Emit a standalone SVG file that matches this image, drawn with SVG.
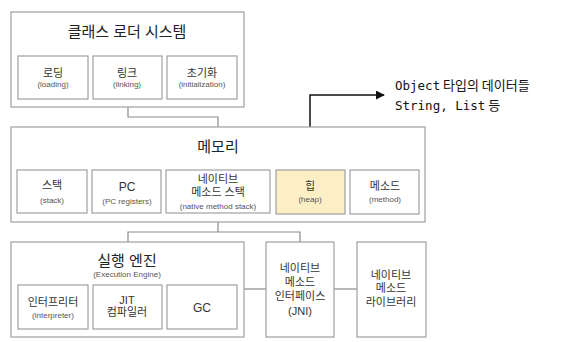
<svg xmlns="http://www.w3.org/2000/svg" width="564" height="342" viewBox="0 0 564 342">
<defs>
<style>
text{font-family:"Liberation Sans","Noto Sans CJK KR",sans-serif;text-anchor:middle;fill:#333}
.outer{fill:#fff;stroke:#a0a0a0;stroke-width:1.2}
.inner{fill:#fff;stroke:#a0a0a0;stroke-width:1.2}
.heap{fill:#fcefc6;stroke:#a0a0a0;stroke-width:1.2}
.title{font-size:15px;fill:#222}
.lbl{font-size:11px}
.sub{font-size:8px;fill:#555}
.conn{fill:none;stroke:#8a8a8a;stroke-width:1.2}
.arrow{fill:none;stroke:#111;stroke-width:1.5}
.note{font-family:"DejaVu Sans Mono","Noto Sans CJK KR",monospace;font-size:12.5px;text-anchor:start;fill:#111}
.ko{font-family:"Noto Sans CJK KR",sans-serif;font-size:13px}
</style>
<marker id="ah" viewBox="0 0 10 10" refX="9" refY="5" markerWidth="6" markerHeight="6" orient="auto">
<path d="M0,0 L10,5 L0,10 z" fill="#111"/>
</marker>
</defs>
<rect width="564" height="342" fill="#fff"/>

<g id="connectors">
<path class="conn" d="M128,107 V117 H218 V127"/>
<path class="conn" d="M218,222 V232 M128,242 V232 H300 V242"/>
<path class="conn" d="M244,289 H266"/>
<path class="conn" d="M334,289 H357"/>
<path class="arrow" d="M310,170 V95 H384" marker-end="url(#ah)"/>
</g>

<g id="class-loader">
<rect class="outer" x="11" y="12" width="233" height="95"/>
<text class="title" x="127" y="37">클래스 로더 시스템</text>
</g>
<g id="loading">
<rect class="inner" x="18" y="56" width="70" height="43"/>
<text class="lbl" x="53" y="77">로딩</text>
<text class="sub" x="53" y="87">(loading)</text>
</g>
<g id="linking">
<rect class="inner" x="93" y="56" width="69" height="43"/>
<text class="lbl" x="127" y="77">링크</text>
<text class="sub" x="127" y="87">(linking)</text>
</g>
<g id="initialization">
<rect class="inner" x="167" y="56" width="70" height="43"/>
<text class="lbl" x="202" y="77">초기화</text>
<text class="sub" x="202" y="87">(initialization)</text>
</g>

<g id="memory">
<rect class="outer" x="11" y="127" width="414" height="95"/>
<text class="title" x="218" y="152">메모리</text>
</g>
<g id="stack">
<rect class="inner" x="17" y="170" width="70" height="43"/>
<text class="lbl" x="52" y="189">스택</text>
<text class="sub" x="52" y="203">(stack)</text>
</g>
<g id="pc">
<rect class="inner" x="92" y="170" width="69" height="43"/>
<text class="lbl" x="127" y="191" style="font-size:12px">PC</text>
<text class="sub" x="127" y="204">(PC registers)</text>
</g>
<g id="native-stack">
<rect class="inner" x="166" y="170" width="104" height="43"/>
<text class="lbl" x="218" y="183">네이티브</text>
<text class="lbl" x="218" y="196">메소드 스택</text>
<text class="sub" x="218" y="209">(native method stack)</text>
</g>
<g id="heap">
<rect class="heap" x="276" y="170" width="69" height="44"/>
<text class="lbl" x="310" y="190">힙</text>
<text class="sub" x="310" y="202">(heap)</text>
</g>
<g id="method">
<rect class="inner" x="350" y="170" width="69" height="44"/>
<text class="lbl" x="385" y="190">메소드</text>
<text class="sub" x="385" y="202">(method)</text>
</g>

<g id="heap-note">
<text class="note" x="395" y="90">Object<tspan class="ko"> 타입의 데이터들</tspan></text>
<text class="note" x="395" y="110">String, List<tspan class="ko"> 등</tspan></text>
</g>

<g id="execution-engine">
<rect class="outer" x="11" y="242" width="233" height="95"/>
<text class="title" x="127" y="266">실행 엔진</text>
<text class="sub" x="127" y="277">(Execution Engine)</text>
</g>
<g id="interpreter">
<rect class="inner" x="18" y="285" width="70" height="44"/>
<text class="lbl" x="53" y="306">인터프리터</text>
<text class="sub" x="53" y="318">(interpreter)</text>
</g>
<g id="jit">
<rect class="inner" x="93" y="285" width="69" height="44"/>
<text class="lbl" x="127" y="304">JIT</text>
<text class="lbl" x="127" y="316">컴파일러</text>
</g>
<g id="gc">
<rect class="inner" x="167" y="285" width="70" height="44"/>
<text class="lbl" x="202" y="312" style="font-size:12px">GC</text>
</g>

<g id="jni">
<rect class="outer" x="266" y="242" width="68" height="95"/>
<text class="lbl" x="300" y="272">네이티브</text>
<text class="lbl" x="300" y="286">메소드</text>
<text class="lbl" x="300" y="300">인터페이스</text>
<text class="lbl" x="300" y="315">(JNI)</text>
</g>
<g id="native-library">
<rect class="outer" x="357" y="242" width="69" height="95"/>
<text class="lbl" x="391" y="279">네이티브</text>
<text class="lbl" x="391" y="292">메소드</text>
<text class="lbl" x="391" y="306">라이브러리</text>
</g>
</svg>
